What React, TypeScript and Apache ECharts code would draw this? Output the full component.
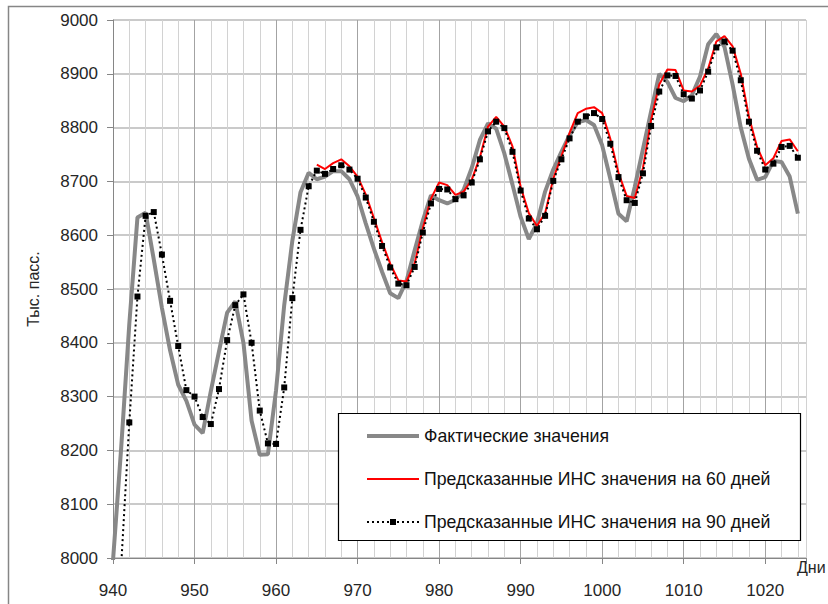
import { useEffect, useRef } from "react";
import * as echarts from "echarts";

const FONT = "'Liberation Sans', Arial, sans-serif";

const xMin = 940;
const xMax = 1025;
const xLabelTicks = [940, 950, 960, 970, 980, 990, 1000, 1010, 1020];

const seriesNames = [
  "Фактические значения",
  "Предсказанные ИНС значения на 60 дней",
  "Предсказанные ИНС значения на 90 дней",
];

// Фактические значения, days 940..1024
const actualStart = 940;
const actual = [
  7995, 8204, 8435, 8633, 8642, 8555, 8465, 8386, 8322, 8292,
  8248, 8232, 8310, 8384, 8456, 8477, 8400, 8255, 8192, 8193,
  8312, 8470, 8590, 8680, 8716, 8704, 8709, 8719, 8719, 8704,
  8672, 8622, 8575, 8532, 8492, 8483, 8515, 8572, 8627, 8674,
  8665, 8659, 8666, 8684, 8725, 8777, 8808, 8798, 8752, 8694,
  8634, 8593, 8622, 8681, 8722, 8755, 8786, 8810, 8814, 8805,
  8767, 8705, 8640, 8626, 8690, 8760, 8830, 8900, 8885, 8855,
  8849, 8860, 8895, 8955, 8974, 8950, 8880, 8800, 8742, 8703,
  8708, 8738, 8736, 8709, 8640,
];

// Предсказанные на 60 дней, days 965..1024
const pred60Start = 965;
const pred60 = [
  8731, 8723, 8734, 8741, 8728, 8709, 8676, 8632, 8587, 8547,
  8516, 8514, 8548, 8613, 8668, 8698, 8693, 8675, 8681, 8703,
  8745, 8802, 8820, 8802, 8765, 8690, 8641, 8617, 8641, 8705,
  8747, 8790, 8827, 8835, 8838, 8827, 8779, 8716, 8673, 8669,
  8725, 8814, 8880, 8908, 8907, 8869, 8867, 8878, 8910, 8960,
  8970, 8951, 8900, 8820, 8764, 8730, 8743, 8775, 8778, 8756,
];

// Предсказанные на 90 дней, days 941..1024
const pred90Start = 941;
const pred90 = [
  7985, 8252, 8486, 8636, 8643, 8564, 8478, 8394, 8312, 8300,
  8262, 8249, 8314, 8405, 8470, 8490, 8400, 8274, 8213, 8212,
  8317, 8483, 8610, 8691, 8720, 8714, 8723, 8730, 8722, 8705,
  8670, 8625, 8580, 8540, 8510, 8507, 8541, 8605, 8659, 8686,
  8685, 8667, 8674, 8698, 8741, 8793, 8811, 8799, 8755, 8683,
  8631, 8611, 8636, 8701, 8741, 8780, 8811, 8821, 8827, 8816,
  8770, 8708, 8665, 8660, 8715, 8803, 8867, 8897, 8896, 8862,
  8854, 8869, 8904, 8949, 8960, 8943, 8888, 8811, 8757, 8722,
  8733, 8764, 8766, 8744,
];

const toPairs = (start: number, vals: number[]) => vals.map((v, i) => [start + i, v]);

// legend sample: dotted line with a small square marker
const dottedIcon =
  "path://M0,3h2v2H0z M5,3h2v2H5z M10,3h2v2H10z M15,3h2v2H15z M20,3h2v2H20z" +
  " M23,1h6v6H23z M30,3h2v2H30z M35,3h2v2H35z M40,3h2v2H40z M45,3h2v2H45z M50,3h2v2H50z";

export default function App() {
  const ref = useRef<HTMLDivElement>(null);
  useEffect(() => {
    if (!ref.current) return;
    const chart = echarts.init(ref.current, undefined, { renderer: "svg" });
    const axisColor = "#868686";
    const textColor = "#262626";
    const grayColor = "#888888";
    chart.setOption({
      animation: false,
      textStyle: { fontFamily: FONT },
      grid: { left: 113, right: 22, top: 20, bottom: 46, containLabel: false },
      xAxis: [
        {
          type: "value",
          min: xMin,
          max: xMax,
          interval: 2,
          position: "bottom",
          axisLine: { show: true, lineStyle: { color: axisColor, width: 1 } },
          axisTick: { show: false },
          axisLabel: { show: false },
          splitLine: {
            show: true,
            lineStyle: { color: ["#a3a3a3", "#d2d2d2", "#d2d2d2", "#d2d2d2", "#d2d2d2"], width: 1 },
          },
        },
        {
          type: "value",
          min: xMin,
          max: xMax,
          interval: 10,
          position: "bottom",
          axisLine: { show: false },
          axisTick: { show: true, length: 6, lineStyle: { color: axisColor } },
          axisLabel: {
            margin: 24,
            color: textColor,
            fontSize: 17,
            fontFamily: FONT,
            formatter: (v: number) => (xLabelTicks.indexOf(v) >= 0 ? String(v) : ""),
          },
          splitLine: { show: false },
        },
      ],
      yAxis: {
        type: "value",
        min: 8000,
        max: 9000,
        interval: 100,
        name: "Тыс. пасс.",
        nameLocation: "middle",
        nameRotate: 90,
        nameGap: 72,
        nameTextStyle: { color: textColor, fontSize: 16, fontFamily: FONT },
        axisLine: { show: true, lineStyle: { color: axisColor, width: 1 } },
        axisTick: { show: true, length: 6, lineStyle: { color: axisColor } },
        axisLabel: {
          margin: 15,
          color: textColor,
          fontSize: 17,
          fontFamily: FONT,
          formatter: (v: number) => String(v),
        },
        splitLine: { show: true, lineStyle: { color: "#b9b9b9", width: 1.5 } },
      },
      legend: {
        orient: "vertical",
        left: 367,
        top: 427,
        padding: 0,
        itemWidth: 52,
        itemHeight: 14,
        itemGap: 25,
        z: 20,
        textStyle: { color: "#111", fontSize: 17.7, fontFamily: FONT },
        data: [
          { name: seriesNames[0], icon: "path://M0,0H52V4H0Z" },
          { name: seriesNames[1], icon: "path://M0,0H52V2H0Z" },
          { name: seriesNames[2], icon: dottedIcon },
        ],
      },
      graphic: [
        {
          type: "polyline",
          shape: { points: [[8.5, 604], [8.5, 6.5], [828, 6.5]] },
          style: { stroke: axisColor, lineWidth: 1.5, fill: "none" },
          silent: true,
        },
        {
          type: "rect",
          shape: { x: 338.5, y: 413.5, width: 462, height: 127 },
          style: { fill: "#ffffff", stroke: "#000000", lineWidth: 1.2 },
          z: 15,
          silent: true,
        },
        {
          type: "text",
          left: 797,
          top: 559,
          style: { text: "Дни", fill: textColor, fontSize: 16, fontFamily: FONT },
          z: 20,
        },
      ],
      series: [
        {
          name: seriesNames[0],
          type: "line",
          xAxisIndex: 0,
          data: toPairs(actualStart, actual),
          symbol: "none",
          lineStyle: { color: grayColor, width: 4 },
          itemStyle: { color: grayColor },
          z: 3,
        },
        {
          name: seriesNames[1],
          type: "line",
          xAxisIndex: 0,
          data: toPairs(pred60Start, pred60),
          symbol: "none",
          lineStyle: { color: "#ff0000", width: 2 },
          itemStyle: { color: "#ff0000" },
          z: 4,
        },
        {
          name: seriesNames[2],
          type: "line",
          xAxisIndex: 0,
          data: toPairs(pred90Start, pred90),
          symbol: "rect",
          symbolSize: 6,
          showSymbol: true,
          lineStyle: { color: "#000000", width: 2, type: [2, 3] },
          itemStyle: { color: "#000000" },
          z: 5,
        },
      ],
    });
    return () => chart.dispose();
  }, []);
  return (
    <div
      ref={ref}
      style={{ position: "absolute", left: 0, top: 0, width: 828, height: 604 }}
    />
  );
}
